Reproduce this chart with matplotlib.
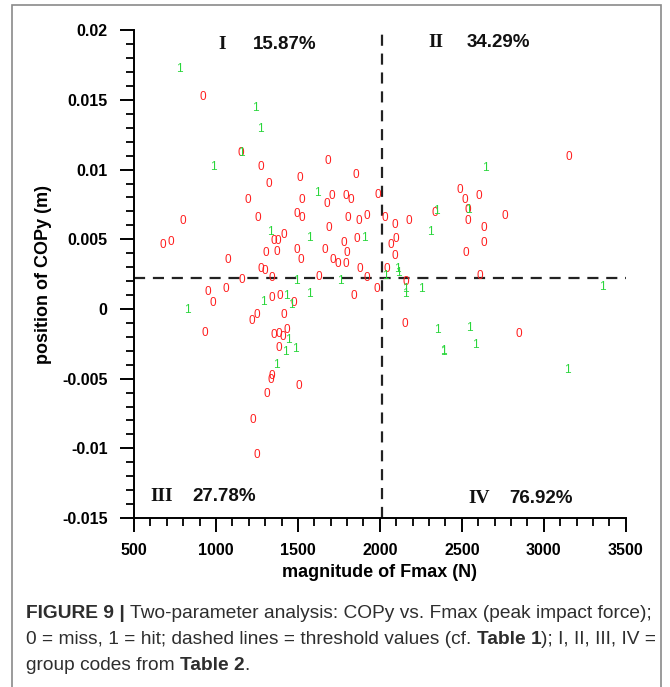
import matplotlib
matplotlib.use("Agg")
import matplotlib.pyplot as plt
from matplotlib.patches import Rectangle
from matplotlib.ticker import MultipleLocator

# hits (1) and misses (0): Fmax in N, COPy in m
hit_x = [775, 1238, 1269, 982, 1616, 1330, 1568, 1903, 1153, 2641, 2342, 2537, 2306, 2104,
         823, 1287, 1427, 1458, 1488, 1568, 1757, 1439, 1421, 1482, 1366, 2031, 2110,
         2153, 2153, 2251, 2348, 2385, 2390, 2544, 2580, 3141, 3355]
hit_y = [0.0172, 0.0144, 0.0129, 0.0102, 0.0083, 0.0055, 0.0051, 0.0051, 0.0112, 0.0101,
         0.0070, 0.0071, 0.0055, 0.0029, -0.0001, 0.0005, 0.0009, 0.0003, 0.0020, 0.0011,
         0.0020, -0.0022, -0.0031, -0.0029, -0.0040, 0.0024, 0.0026, 0.0014, 0.0011,
         0.0014, -0.0015, -0.0031, -0.0030, -0.0014, -0.0026, -0.0044, 0.0016]

miss_x = [921, 1153, 1275, 1683, 1513, 1854, 1324, 1195, 1525, 1708, 1677, 1793, 1824, 1988,
          799, 1256, 1494, 1525, 1690, 1805, 1873, 1921, 677, 726, 1073, 1305, 1354, 1378,
          1415, 1372, 1494, 1519, 1665, 1714, 1744, 1793, 1781, 1799, 1860, 1879, 1275, 1299,
          3154, 2489, 2519, 2605, 2336, 2537, 2537, 2763, 2031, 2092, 2178, 2635, 2635, 2098,
          2068, 2092, 2525, 2043, 2611, 2159, 1982, 2153, 2849,
          1159, 1342, 1629, 1921, 951, 1061, 982, 1342, 1391, 1476, 1842, 1250, 1220, 1415,
          933, 1354, 1385, 1409, 1433, 1385, 1342, 1336, 1507, 1311, 1226, 1250]
miss_y = [0.0152, 0.0112, 0.0102, 0.0106, 0.0094, 0.0096, 0.0090, 0.0078, 0.0078, 0.0081,
          0.0075, 0.0081, 0.0078, 0.0082, 0.0063, 0.0065, 0.0068, 0.0065, 0.0058, 0.0065,
          0.0063, 0.0067, 0.0046, 0.0048, 0.0035, 0.0040, 0.0049, 0.0049, 0.0053, 0.0041,
          0.0042, 0.0035, 0.0042, 0.0035, 0.0032, 0.0032, 0.0047, 0.0040, 0.0050, 0.0029,
          0.0029, 0.0027,
          0.0109, 0.0085, 0.0078, 0.0081, 0.0069, 0.0071, 0.0063, 0.0067, 0.0065, 0.0060,
          0.0063, 0.0058, 0.0047, 0.0050, 0.0046, 0.0038, 0.0040, 0.0029, 0.0024, 0.0019,
          0.0014, -0.0011, -0.0018,
          0.0021, 0.0022, 0.0023, 0.0022, 0.0012, 0.0014, 0.0004, 0.0008, 0.0009, 0.0004,
          0.0009, -0.0004, -0.0009, -0.0004, -0.0017, -0.0019, -0.0018, -0.0020, -0.0015,
          -0.0028, -0.0048, -0.0051, -0.0055, -0.0061, -0.0080, -0.0105]

fmax_thr = 2010
copy_thr = 0.0022

quad_codes = ["I", "II", "III", "IV"]
quad_pct = ["15.87%", "34.29%", "27.78%", "76.92%"]
quad_x = [1037, 2342, 671, 2605]
quad_y = [0.0190, 0.0191, -0.01345, -0.0136]

fig = plt.figure(figsize=(6.7, 6.87), dpi=100)
ax = fig.add_axes([0.2, 0.246, 0.734, 0.710])

ax.plot([fmax_thr, fmax_thr], [-0.015, 0.02], color="#222222", lw=1.6, ls=(0, (5, 3.5)), zorder=1)
ax.plot([500, 3500], [copy_thr, copy_thr], color="#222222", lw=1.6, ls=(0, (5, 3.5)), zorder=1)

for x, y in zip(miss_x, miss_y):
    ax.text(x, y, "0", color="#ff1f1f", fontsize=8.5, family="Liberation Sans",
            ha="center", va="center", zorder=3)
for x, y in zip(hit_x, hit_y):
    ax.text(x, y, "1", color="#2ad63c", fontsize=8.5, family="Liberation Sans",
            ha="center", va="center", zorder=4)

for code, pct, x, y in zip(quad_codes, quad_pct, quad_x, quad_y):
    ax.text(x, y, code, family="Liberation Serif", fontweight="bold", fontsize=14,
            ha="center", va="center", color="#111111")
    ax.annotate(pct, (x, y), xytext=(22, 0), textcoords="offset points",
                family="Liberation Sans", fontweight="bold", fontsize=13.5,
                ha="left", va="center", color="#111111")

ax.set_xlim(500, 3500)
ax.set_ylim(-0.015, 0.02)
ax.xaxis.set_major_locator(MultipleLocator(500))
ax.xaxis.set_minor_locator(MultipleLocator(100))
ax.yaxis.set_major_locator(MultipleLocator(0.005))
ax.yaxis.set_minor_locator(MultipleLocator(0.001))
ax.set_yticks([-0.015, -0.01, -0.005, 0, 0.005, 0.01, 0.015, 0.02])
ax.set_yticklabels(["-0.015", "-0.01", "-0.005", "0", "0.005", "0.01", "0.015", "0.02"])
ax.spines["top"].set_visible(False)
ax.spines["right"].set_visible(False)
for s in ["left", "bottom"]:
    ax.spines[s].set_linewidth(1.4)
ax.tick_params(which="major", direction="out", length=10, width=1.4)
ax.tick_params(axis="y", which="major", pad=9)
ax.tick_params(axis="x", which="major", pad=8)
ax.tick_params(which="minor", direction="out", length=5.5, width=1.3)
for lab in ax.get_xticklabels() + ax.get_yticklabels():
    lab.set_family("Liberation Sans")
    lab.set_fontweight("bold")
    lab.set_fontsize(11.5)
ax.set_xlabel("magnitude of Fmax (N)", family="Liberation Sans", fontweight="bold",
              fontsize=13, labelpad=4)
ax.set_ylabel("position of COPy (m)", family="Liberation Sans", fontweight="bold",
              fontsize=13, labelpad=7)

# frame round the figure panel
fig.add_artist(Rectangle((12 / 670, -0.02), 649 / 670, 1.012, transform=fig.transFigure,
                         fill=False, ec="#8a8a8a", lw=1.2))

# caption with bold pieces
cap_lines = [
    [("FIGURE 9 | ", "bold"), ("Two-parameter analysis: COPy vs. Fmax (peak impact force);", "normal")],
    [("0 = miss, 1 = hit; dashed lines = threshold values (cf. ", "normal"), ("Table 1", "bold"),
     ("); I, II, III, IV =", "normal")],
    [("group codes from ", "normal"), ("Table 2", "bold"), (".", "normal")],
]
cap_y = [614, 640, 666]

fig.canvas.draw()
r = fig.canvas.get_renderer()


def draw_line(parts, ypx, size, xpx=26):
    made = []
    for s, w in parts:
        t = fig.text(xpx / 670, 1 - ypx / 687, s, fontsize=size, fontweight=w,
                     family="Liberation Sans", color="#2e2e2e", va="center", ha="left")
        xpx += t.get_window_extent(r).width
        made.append(t)
    return xpx, made


# fit first line to the frame width
end, tmp = draw_line(cap_lines[0], cap_y[0], 13)
cap_size = 13 * (650 - 26) / (end - 26)
for t in tmp:
    t.remove()
for parts, ypx in zip(cap_lines, cap_y):
    draw_line(parts, ypx, cap_size)

fig.savefig("out.png", dpi=100)
